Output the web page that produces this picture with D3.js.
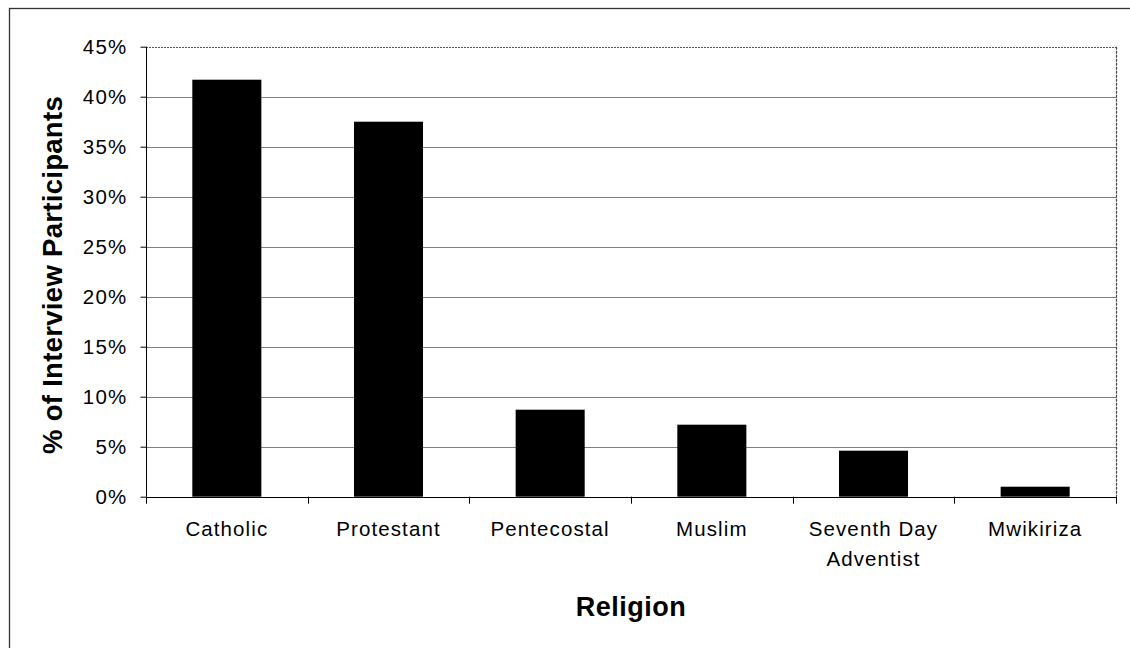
<!DOCTYPE html>
<html>
<head>
<meta charset="utf-8">
<script src="https://cdn.jsdelivr.net/npm/d3@7"></script>
<style>
  html, body { margin: 0; padding: 0; background: #fff; }
  svg { display: block; font-family: Arial, "Liberation Sans", Helvetica, sans-serif; }
</style>
</head>
<body>
<svg id="chart" width="1130" height="648"></svg>
<script>
// Religion of interview participants (share of all participants)
const categories = ["Catholic", "Protestant", "Pentecostal", "Muslim", "Seventh Day Adventist", "Mwikiriza"];
const categoryLines = [["Catholic"], ["Protestant"], ["Pentecostal"], ["Muslim"], ["Seventh Day", "Adventist"], ["Mwikiriza"]];
const shares = [0.417, 0.375, 0.087, 0.072, 0.046, 0.010];
const yTicks = [0, 0.05, 0.10, 0.15, 0.20, 0.25, 0.30, 0.35, 0.40, 0.45];

const svg = d3.select("#chart");
const plot = { left: 146, right: 1116, top: 46.7, bottom: 496.7 };

// outer chart frame (runs off the right and bottom edge)
svg.append("rect")
  .attr("x", 9.5).attr("y", 8.5)
  .attr("width", 1130).attr("height", 660)
  .attr("fill", "none").attr("stroke", "#333").attr("stroke-width", 1.3);

const pad = 0.573;
const x = d3.scaleBand()
  .domain(categories)
  .range([plot.left, plot.right])
  .paddingInner(pad)
  .paddingOuter(pad / 2);

const y = d3.scaleLinear().domain([0, 0.45]).range([plot.bottom, plot.top]);

// horizontal gridlines
svg.append("g")
  .selectAll("line")
  .data(yTicks.slice(1))
  .join("line")
  .attr("x1", plot.left).attr("x2", plot.right)
  .attr("y1", d => Math.round(y(d)) + 0.5).attr("y2", d => Math.round(y(d)) + 0.5)
  .attr("stroke", d => d === 0.45 ? "#555" : "#808080")
  .attr("stroke-width", 1)
  .attr("stroke-dasharray", d => d === 0.45 ? "2,1" : null);

// right edge of the plot area
svg.append("line")
  .attr("x1", plot.right + 0.5).attr("x2", plot.right + 0.5)
  .attr("y1", plot.top).attr("y2", plot.bottom)
  .attr("stroke", "#444").attr("stroke-width", 1.2).attr("stroke-dasharray", "3,1");

// bars
svg.append("g")
  .selectAll("rect")
  .data(categories)
  .join("rect")
  .attr("x", d => x(d))
  .attr("width", x.bandwidth())
  .attr("y", (d, i) => y(shares[i]))
  .attr("height", (d, i) => y(0) - y(shares[i]))
  .attr("fill", "#000");

// y axis
const yAxis = svg.append("g")
  .attr("transform", `translate(${plot.left + 0.5},0)`)
  .call(d3.axisLeft(y).tickValues(yTicks).tickFormat(d3.format(".0%")).tickSize(6).tickPadding(13));
yAxis.select(".domain").attr("stroke", "#000").attr("d", `M0,${plot.top}V${plot.bottom}`);
yAxis.selectAll(".tick line").attr("stroke", "#000");
yAxis.selectAll(".tick text")
  .attr("font-size", 20.5)
  .attr("letter-spacing", 1.2)
  .attr("fill", "#000")
  .attr("font-family", "Arial, 'Liberation Sans', sans-serif");

// x axis baseline and category boundary ticks
svg.append("line")
  .attr("x1", plot.left).attr("x2", plot.right)
  .attr("y1", Math.round(plot.bottom) + 0.5).attr("y2", Math.round(plot.bottom) + 0.5)
  .attr("stroke", "#000");

const boundaries = d3.range(categories.length + 1).map(i => x.range()[0] + i * x.step());
svg.append("g")
  .selectAll("line")
  .data(boundaries)
  .join("line")
  .attr("x1", d => Math.round(d) + 0.5).attr("x2", d => Math.round(d) + 0.5)
  .attr("y1", plot.bottom).attr("y2", plot.bottom + 7)
  .attr("stroke", "#000");

// category labels
const labels = svg.append("g");
categories.forEach((c, i) => {
  const cx = x(c) + x.bandwidth() / 2;
  const t = labels.append("text")
    .attr("x", cx)
    .attr("y", 536)
    .attr("text-anchor", "middle")
    .attr("font-size", 20.5)
    .attr("letter-spacing", 1.1)
    .attr("fill", "#000");
  categoryLines[i].forEach((line, j) => {
    t.append("tspan").attr("x", cx).attr("dy", j === 0 ? 0 : 30).text(line);
  });
});

// axis titles
svg.append("text")
  .attr("x", (plot.left + plot.right) / 2)
  .attr("y", 616)
  .attr("text-anchor", "middle")
  .attr("font-size", 27)
  .attr("font-weight", "bold")
  .attr("letter-spacing", 0.5)
  .attr("fill", "#000")
  .text("Religion");

svg.append("text")
  .attr("transform", "translate(62,275) rotate(-90)")
  .attr("text-anchor", "middle")
  .attr("font-size", 27.5)
  .attr("font-weight", "bold")
  .attr("letter-spacing", 0.3)
  .attr("fill", "#000")
  .text("% of Interview Participants");
</script>
</body>
</html>
